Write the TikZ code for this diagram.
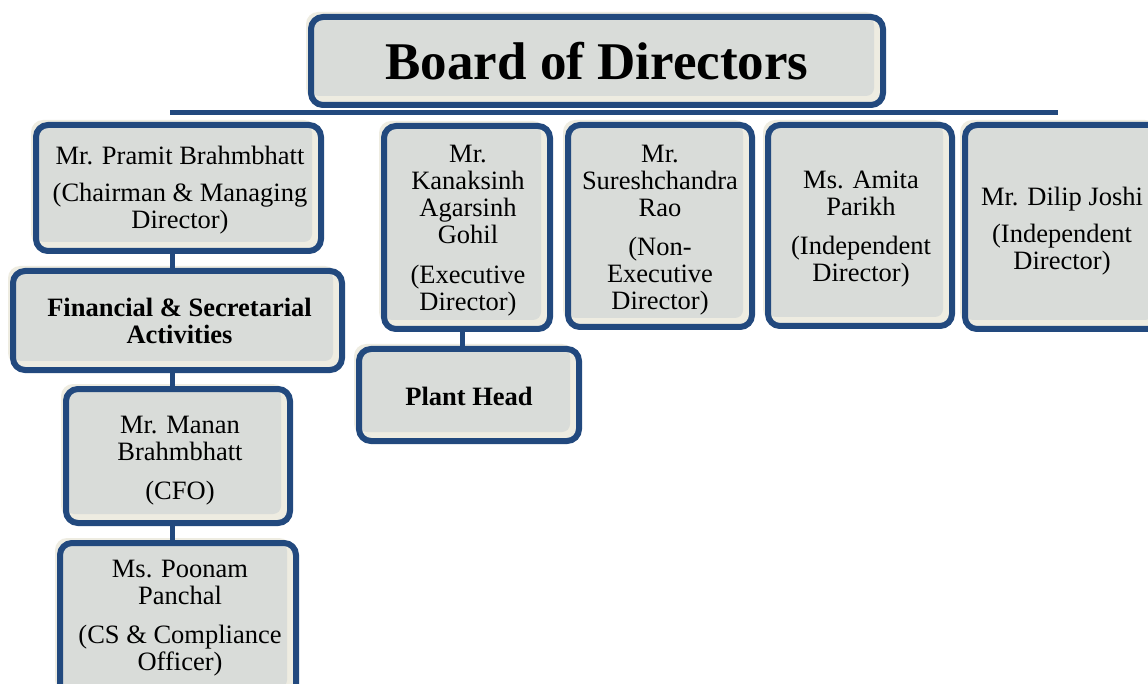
\documentclass[tikz,border=0pt]{standalone}
\usepackage{fontspec}
\setmainfont{Liberation Serif}
\usetikzlibrary{shadows}
\definecolor{boxblue}{RGB}{34,73,126}
\definecolor{boxgray}{RGB}{217,220,217}
\definecolor{cream}{RGB}{238,236,225}
\tikzset{
  box/.style={draw=boxblue, line width=6pt, fill=cream, rounded corners=12pt,
    inner sep=0pt, drop shadow={fill=cream, opacity=1, shadow xshift=-5pt, shadow yshift=5pt},
    path picture={\fill[boxgray, rounded corners=8pt] (path picture bounding box.north west) rectangle ([shift={(-9pt,9pt)}]path picture bounding box.south east);}},
  txt/.style={font=\fontsize{26.5}{27}\selectfont, align=center, inner sep=0pt, text=black},
  btxt/.style={txt, font=\fontsize{26.5}{27}\selectfont\bfseries},
  conn/.style={draw=boxblue, line width=5pt},
}
\begin{document}
\begin{tikzpicture}[x=1pt,y=-1pt]
\useasboundingbox (0,0) rectangle (1148,684);
\clip (0,0) rectangle (1148,684);
\fill[white] (0,0) rectangle (1148,684);

% connector coordinates
\coordinate (barL) at (170,113);
\coordinate (barR) at (1058,113);
\coordinate (colA) at (172,0);
\coordinate (colB) at (462,0);

% boxes
\node[box, minimum width=572, minimum height=88] (board) at (597,61) {};
\node[box, minimum width=285, minimum height=126] (pramit) at (178.5,188) {};
\node[box, minimum width=329, minimum height=99] (fin) at (177.5,320.5) {};
\node[box, minimum width=224, minimum height=134] (manan) at (178,456) {};
\node[box, minimum width=236, minimum height=154] (poonam) at (178,620) {};
\node[box, minimum width=166, minimum height=203] (kanak) at (467,227.5) {};
\node[box, minimum width=220, minimum height=92] (plant) at (469,395) {};
\node[box, minimum width=184, minimum height=202] (suresh) at (660,226) {};
\node[box, minimum width=184, minimum height=201] (amita) at (860,225.5) {};
\node[box, minimum width=197, minimum height=204] (dilip) at (1063.5,227) {};

% connectors
\draw[conn] (barL) -- (barR);
\draw[conn] (pramit.south -| colA) -- (fin.north -| colA);
\draw[conn] (fin.south -| colA) -- (manan.north -| colA);
\draw[conn] (manan.south -| colA) -- (poonam.north -| colA);
\draw[conn] (kanak.south -| colB) -- (plant.north -| colB);

% texts
\node[txt, font=\fontsize{53}{55}\selectfont\bfseries] (board-t) at (597,61) {Board of Directors};
\node[txt] (pramit-t) at (180,190.5) {Mr. Pramit Brahmbhatt\\[10pt](Chairman \& Managing\\Director)};
\node[btxt] (fin-t) at (179.5,320.7) {Financial \& Secretarial\\Activities};
\node[txt] (manan-t) at (180,460.5) {Mr. Manan\\Brahmbhatt\\[12pt](CFO)};
\node[txt] (poonam-t) at (180,618.5) {Ms. Poonam\\Panchal\\[12pt](CS \& Compliance\\Officer)};
\node[txt] (kanak-t) at (468,231) {Mr.\\Kanaksinh\\Agarsinh\\Gohil\\[13pt](Executive\\Director)};
\node[btxt] (plant-t) at (469,396) {Plant Head};
\node[txt] (suresh-t) at (660,230) {Mr.\\Sureshchandra\\Rao\\[12pt](Non-\\Executive\\Director)};
\node[txt] (amita-t) at (861,229.5) {Ms. Amita\\Parikh\\[12pt](Independent\\Director)};
\node[txt] (dilip-t) at (1062,231) {Mr. Dilip Joshi\\[10pt](Independent\\Director)};
\end{tikzpicture}
\end{document}
